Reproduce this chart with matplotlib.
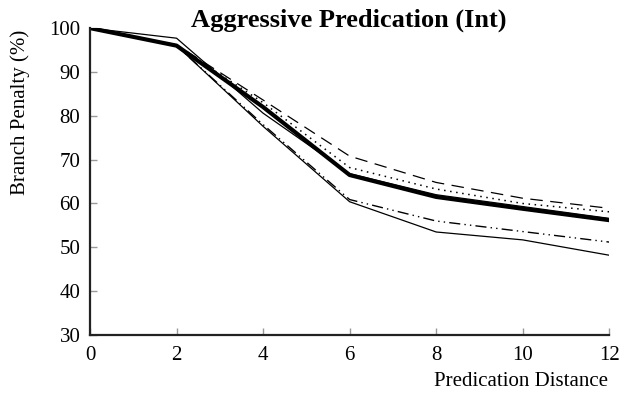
import matplotlib.pyplot as plt

# predication distance
dist = [0, 2, 4, 6, 8, 10, 12]

# branch penalty (%) per configuration
thick_solid = [100, 96.0, 82.0, 66.5, 61.5, 58.8, 56.2]
thin_solid = [100, 97.7, 80.6, 66.8, 62.0, 59.3, 56.6]
dashed = [100, 96.2, 83.6, 70.8, 64.8, 61.2, 58.9]
dotted = [100, 96.0, 83.0, 68.2, 63.3, 60.0, 58.1]
dash_dot = [100, 96.0, 78.0, 60.9, 56.0, 53.6, 51.2]
thin_lower = [100, 96.0, 77.6, 60.4, 53.5, 51.7, 48.2]

plt.rcParams['font.family'] = ['Liberation Serif', 'DejaVu Serif']

fig = plt.figure(figsize=(6.21, 3.96), dpi=100)
ax = fig.add_axes([0.145, 0.154, 0.836, 0.775])

ax.plot(dist, thin_lower, color='black', lw=0.9)
ax.plot(dist, dash_dot, color='black', lw=1.0, dashes=(8, 3, 1, 3, 1, 3))
ax.plot(dist, thin_solid, color='black', lw=0.9)
ax.plot(dist, dotted, color='black', lw=1.1, dashes=(1, 3))
ax.plot(dist, dashed, color='black', lw=0.9, dashes=(10, 6))
ax.plot(dist, thick_solid, color='black', lw=3.0)

ax.set_xlim(0, 12)
ax.set_ylim(30, 100)
ax.set_xticks([0, 2, 4, 6, 8, 10, 12])
ax.set_yticks([30, 40, 50, 60, 70, 80, 90, 100])

for s in ['top', 'right']:
    ax.spines[s].set_visible(False)
for s in ['left', 'bottom']:
    ax.spines[s].set_linewidth(1.6)
    ax.spines[s].set_color('#222222')

ax.tick_params(direction='in', length=5, width=1, color='#999999',
               labelsize=15, pad=5)
ax.tick_params(axis='x', pad=8)
ax.tick_params(axis='y', pad=7)

fig.text(349 / 621, 1 - 20 / 396, 'Aggressive Predication (Int)',
         ha='center', va='center', fontsize=19, fontweight='bold')
fig.text(608 / 621, 1 - 381 / 396, 'Predication Distance',
         ha='right', va='center', fontsize=15)
fig.text(20 / 621, 1 - 112 / 396, 'Branch Penalty (%)',
         ha='center', va='center', rotation=90, fontsize=15)

fig.savefig('out.png', dpi=100)
